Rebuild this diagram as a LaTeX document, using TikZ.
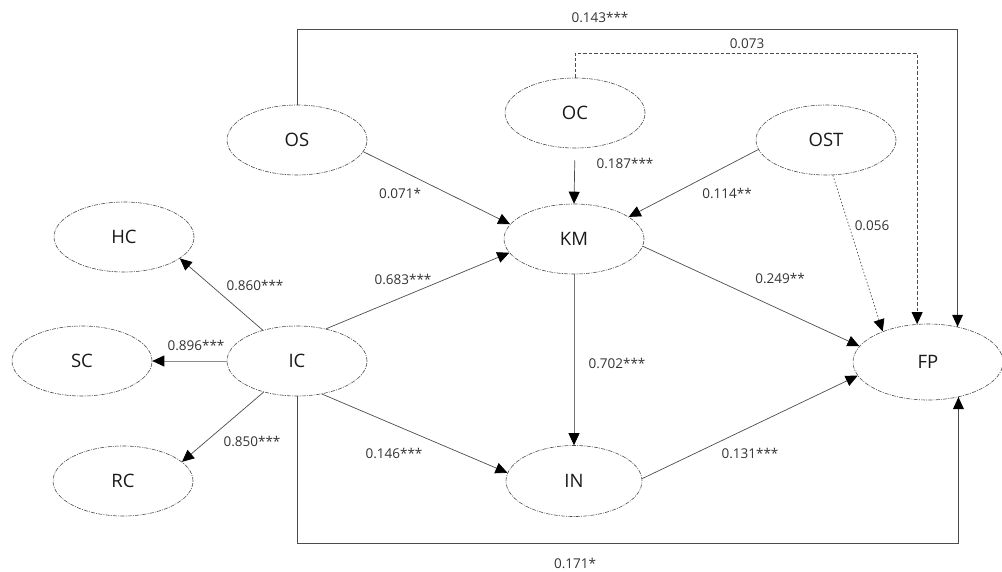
\documentclass[tikz,border=0pt]{standalone}
\usepackage{fontspec}
\setmainfont{Open Sans}
\usetikzlibrary{shapes.geometric,arrows.meta}
\begin{document}
\begin{tikzpicture}[x=1pt,y=-1pt,
  latent/.style={ellipse,draw=black!70,line width=0.6pt,dash pattern=on 4pt off 1.2pt on 1pt off 1.2pt,
    inner sep=0pt,minimum width=140pt,minimum height=70pt,font=\fontsize{18.5}{20}\selectfont,text=black!90},
  path/.style={draw=black!70,line width=0.7pt,-{Triangle[length=12pt,width=11pt,color=black]}},
  plain/.style={draw=black!70,line width=0.9pt},
  coef/.style={font=\fontsize{13.5}{15}\selectfont,text=black!80,inner sep=0pt}]
\useasboundingbox (0,0) rectangle (1002,571);
% nodes
\node[latent] (OS)  at (297,140) {OS};
\node[latent] (OC)  at (575,113) {OC};
\node[latent] (OST) at (826,140) {OST};
\node[latent] (HC)  at (124,237) {HC};
\node[latent] (SC)  at (82,361)  {SC};
\node[latent] (IC)  at (297,361) {IC};
\node[latent] (RC)  at (123,481) {RC};
\node[latent] (KM)  at (574,239) {KM};
\node[latent,minimum width=136pt,minimum height=71pt] (IN) at (574,481) {IN};
\node[latent,minimum width=150pt,minimum height=76pt] (FP) at (928,362) {FP};
% structural paths
\draw[path] (OS.-10) -- (KM.167);
\draw[path,shorten <=12pt] (OC.south) -- (KM.north);
\draw[path] (OST.188) -- (KM.22);
\draw[path,dash pattern=on 1.5pt off 2pt] (OST.-79) -- (FP.146);
\draw[path] (KM.-6) -- (FP.167);
\draw[path] (IN.2) -- (FP.191);
\draw[path] (IC.48) -- (KM.192);
\draw[path] (IC.138) -- (HC.-21);
\draw[path,draw=black!45] (IC.west) -- (SC.east);
\draw[path] (IC.223) -- (RC.18);
\draw[path] (IC.-53) -- (IN.173);
\draw[path,draw=black!55] (KM.south) -- (IN.north);
% long paths
\coordinate (b1) at (297,543);
\coordinate (t1) at (297,29);
\coordinate (t2) at (575,53);
\draw[plain] (IC.south) -- (b1) -| (FP.-49);
\fill[black] (FP.-49) -- ++(-5.5,12) -- ++(11,0) -- cycle;
\draw[plain] (OS.north) -- (t1) -| (FP.50);
\fill[black] (FP.50) -- ++(-5.5,-12) -- ++(11,0) -- cycle;
\draw[path,dash pattern=on 3.5pt off 2pt] (OC.north) -- (t2) -| (FP.106);
% coefficients
\node[coef] (l143) at (600,17)  {0.143***};
\node[coef] (l073) at (747,44)  {0.073};
\node[coef] (l071) at (400,193) {0.071*};
\node[coef] (l187) at (625,163) {0.187***};
\node[coef] (l114) at (727,193) {0.114**};
\node[coef] (l056) at (872,226) {0.056};
\node[coef] (l249) at (780,278) {0.249**};
\node[coef] (l683) at (403,279) {0.683***};
\node[coef] (l860) at (255,285) {0.860***};
\node[coef] (l896) at (196,345) {0.896***};
\node[coef] (l850) at (252,441) {0.850***};
\node[coef] (l702) at (617,363) {0.702***};
\node[coef] (l146) at (394,453) {0.146***};
\node[coef] (l131) at (750,453) {0.131***};
\node[coef] (l171) at (575,563) {0.171*};
\end{tikzpicture}
\end{document}
